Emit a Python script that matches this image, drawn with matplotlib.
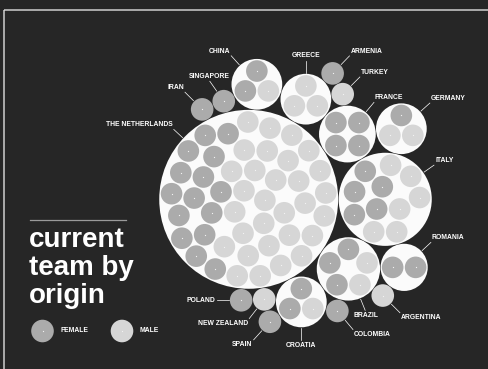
import numpy as np
import matplotlib
matplotlib.use("Agg")
import matplotlib.pyplot as plt
from matplotlib.patches import Circle, Rectangle

# team members per country of origin
countries = ['The Netherlands', 'Italy', 'Brazil', 'France', 'Greece', 'China', 'Germany',
             'Croatia', 'Romania', 'Singapore', 'Iran', 'Turkey', 'Armenia', 'Argentina',
             'Colombia', 'New Zealand', 'Poland', 'Spain']
female = [15, 5, 3, 4, 0, 2, 1, 2, 2, 1, 1, 0, 1, 0, 1, 0, 1, 1]
male = [30, 6, 2, 0, 3, 1, 2, 1, 0, 0, 0, 1, 0, 1, 0, 1, 0, 0]

# layout: each circle sits against two circles placed before it
touches = {'Brazil': ('The Netherlands', 'Italy'), 'France': ('The Netherlands', 'Italy'),
           'Greece': ('The Netherlands', 'France'), 'China': ('The Netherlands', 'Greece'),
           'Germany': ('France', 'Italy'), 'Croatia': ('The Netherlands', 'Brazil'),
           'Romania': ('Italy', 'Brazil'), 'Singapore': ('The Netherlands', 'China'),
           'Iran': ('The Netherlands', 'Singapore'), 'Turkey': ('Greece', 'France'),
           'Armenia': ('Greece', 'Turkey'), 'Argentina': ('Brazil', 'Romania'),
           'Colombia': ('Croatia', 'Brazil'), 'New Zealand': ('The Netherlands', 'Croatia'),
           'Poland': ('The Netherlands', 'New Zealand'), 'Spain': ('New Zealand', 'Croatia')}

# label direction (degrees, counter-clockwise from east)
label_angle = {'The Netherlands': 137, 'Italy': 35, 'Brazil': -68, 'France': 50, 'China': 132,
               'Croatia': -90, 'Germany': 42, 'Greece': 90, 'Romania': 43, 'Argentina': -45,
               'Armenia': 46, 'Colombia': -50, 'Iran': 135, 'New Zealand': -128, 'Poland': 180,
               'Singapore': 125, 'Spain': -132, 'Turkey': 45}
label_ha = {'Singapore': 'center', 'Brazil': 'center'}

BG = '#262626'
FEMALE_C = '#ababab'
MALE_C = '#d6d6d6'
LEAF_R = 10.8      # drawn radius of one person
LEAF_PAD = 0.7     # half gap between people
RING = 0.6         # white margin inside a country circle
SINGLE_R = 11.3


def leaf_layout(n, r):
    # shrink a container around n equal circles until they jam
    if n == 1:
        return np.zeros((1, 2))
    k = np.arange(n)
    theta = k * np.pi * (3 - np.sqrt(5))
    rho = r * 1.15 * np.sqrt(k + 0.5)
    p = np.c_[rho * np.cos(theta), rho * np.sin(theta)]
    eye = np.eye(n, dtype=bool)
    Rc = np.hypot(*p.T).max() + r
    best = p.copy()
    for step in range(5000):
        d = p[:, None] - p[None]
        dist = np.hypot(d[..., 0], d[..., 1])
        dist[eye] = 1.0
        over = np.clip(2 * r - dist, 0, None)
        over[eye] = 0
        p = p + 0.5 * (d / dist[..., None] * over[..., None]).sum(1)
        dn = np.hypot(*p.T)
        lim = Rc - r
        m = dn > lim
        p[m] *= (lim / dn[m])[:, None]
        if over.max() < 2e-3 * r:
            best = p.copy()
            Rc *= 0.999
        else:
            Rc *= 1.0003
    return best


def enclose_points(p):
    c = p.mean(0)
    for k in range(1, 3000):
        d = np.hypot(*(p - c).T)
        c = c + (p[d.argmax()] - c) / (k + 1)
    return c, np.hypot(*(p - c).T).max()


def flat_bottom(p, r):
    # turn the group so that two touching outer circles sit level at the bottom
    rad = np.hypot(*p.T)
    outer = np.where(rad > rad.max() - 0.05 * r)[0]
    if len(outer) < 2:
        return p
    ang = np.sort(np.arctan2(p[outer, 1], p[outer, 0]))
    nxt = np.r_[ang[1:], ang[0] + 2 * np.pi]
    i = np.argmin(nxt - ang)
    delta = np.pi / 2 - (ang[i] + nxt[i]) / 2
    c, s = np.cos(delta), np.sin(delta)
    return p @ np.array([[c, s], [-s, c]])


def tangent_spots(p, q, r):
    (x1, y1, r1), (x2, y2, r2) = p, q
    d = np.hypot(x2 - x1, y2 - y1)
    a, b = r1 + r, r2 + r
    t = (a * a - b * b + d * d) / (2 * d)
    h = np.sqrt(max(a * a - t * t, 0))
    ux, uy = (x2 - x1) / d, (y2 - y1) / d
    bx, by = x1 + t * ux, y1 + t * uy
    return [(bx - h * uy, by + h * ux), (bx + h * uy, by - h * ux)]


# people inside each country
groups = {}
for name, f, m in zip(countries, female, male):
    n = f + m
    p = leaf_layout(n, LEAF_R + LEAF_PAD)
    c, rr = enclose_points(p)
    p = flat_bottom(p - c, LEAF_R)
    R = SINGLE_R if n == 1 else rr + LEAF_R + LEAF_PAD + RING
    tilt = min(0.8, 2.4 / n)
    order = np.argsort(p[:, 0] + tilt * p[:, 1], kind='stable')
    colors = np.empty(n, dtype=object)
    colors[order[:f]] = FEMALE_C
    colors[order[f:]] = MALE_C
    groups[name] = dict(leaves=p, colors=colors, R=R)

# place the countries
pos = {}
first, second = countries[0], countries[1]
pos[first] = (0.0, 0.0, groups[first]['R'])
pos[second] = (groups[first]['R'] + groups[second]['R'] + 0.5, 0.0, groups[second]['R'])
for name in countries[2:]:
    r = groups[name]['R'] + 0.25
    p, q = pos[touches[name][0]], pos[touches[name][1]]
    p = (p[0], p[1], p[2] + 0.25)
    q = (q[0], q[1], q[2] + 0.25)
    best, best_ov = None, None
    for (x, y) in tangent_spots(p, q, r):
        ov = sum(max(0, o[2] + r - np.hypot(x - o[0], y - o[1]) - 0.5) for o in pos.values())
        if best is None or ov < best_ov - 1e-9:
            best, best_ov = (x, y), ov
    pos[name] = (best[0], best[1], groups[name]['R'])

arr = np.array(list(pos.values()))
x0, x1 = (arr[:, 0] - arr[:, 2]).min(), (arr[:, 0] + arr[:, 2]).max()
y0, y1 = (arr[:, 1] - arr[:, 2]).min(), (arr[:, 1] + arr[:, 2]).max()
shift_x = 295.5 - (x0 + x1) / 2
shift_y = 196 - (y0 + y1) / 2

fig = plt.figure(figsize=(4.89, 3.69), dpi=100, facecolor=BG)
ax = fig.add_axes([0, 0, 1, 1])
ax.set_facecolor(BG)
ax.set_xlim(0, 489)
ax.set_ylim(369, 0)
ax.axis('off')

ax.add_patch(Rectangle((3.7, 9.5), 520, 420, fill=False, ec='#cfcfcf', lw=1.1))

for name in countries:
    g = groups[name]
    cx, cy = pos[name][0] + shift_x, pos[name][1] + shift_y
    if len(g['leaves']) > 1:
        ax.add_patch(Circle((cx, cy), g['R'], fc='#fbfbfb', ec='none'))
        lr = LEAF_R
    else:
        lr = SINGLE_R
    for (lx, ly), col in zip(g['leaves'], g['colors']):
        ax.add_patch(Circle((cx + lx, cy + ly), lr, fc=col, ec='none'))
        ax.plot(cx + lx, cy + ly, 'o', ms=0.9, mec='none', mfc='#f4f4f4')

    a = np.radians(label_angle[name])
    ux, uy = np.cos(a), -np.sin(a)
    r0 = g['R'] + 1
    r1 = g['R'] + 13
    ax.plot([cx + ux * r0, cx + ux * r1], [cy + uy * r0, cy + uy * r1], color='white', lw=0.5)
    ha = 'left' if ux > 0.3 else ('right' if ux < -0.3 else 'center')
    ha = label_ha.get(name, ha)
    va = 'bottom' if uy < -0.3 else ('top' if uy > 0.3 else 'center')
    ax.text(cx + ux * (r1 + 1.5), cy + uy * (r1 + 1.5), name.upper(), color='white',
            fontsize=4.9, fontweight='bold', family='Liberation Sans', ha=ha, va=va)

# title block
ax.plot([30, 126], [220, 220], color='#9a9a9a', lw=0.9)
for txt, yb in zip(['current', 'team by', 'origin'], [247, 275, 303]):
    ax.text(29, yb, txt, color='white', fontsize=20, fontweight='bold',
            family='Liberation Sans', va='baseline', ha='left')

# legend
for (lx, col, lab) in [(42.5, FEMALE_C, 'FEMALE'), (122, MALE_C, 'MALE')]:
    ax.add_patch(Circle((lx, 331), 11.3, fc=col, ec='none'))
    ax.plot(lx, 331, 'o', ms=0.9, mec='none', mfc='#f4f4f4')
    ax.text(lx + 18, 331, lab, color='white', fontsize=4.9, fontweight='bold',
            family='Liberation Sans', ha='left', va='center')

fig.savefig('out.png', dpi=100, facecolor=BG)
